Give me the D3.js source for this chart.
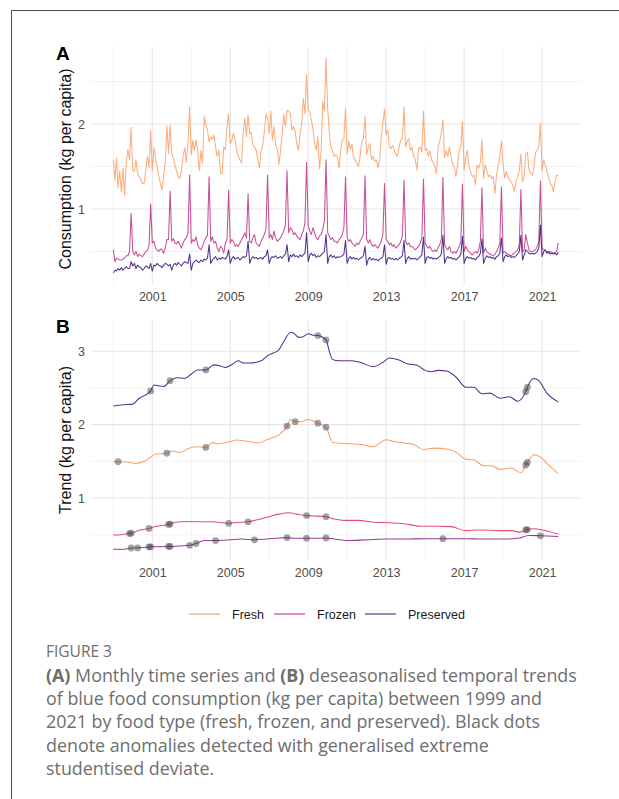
<!DOCTYPE html>
<html><head><meta charset="utf-8">
<script src="https://cdn.jsdelivr.net/npm/d3@7"></script>
<style>
html,body{margin:0;padding:0;background:#fff;}
svg{display:block;}
</style></head><body>
<svg id="fig" width="619" height="799"></svg>
<script>
// Blue food consumption, kg per capita, monthly from January 1999
const seriesNames = ["Fresh", "Frozen", "Preserved"];
const firstYear = 1999;

const freshMonthly = [
  [1.58,1.34,1.60,1.25,1.45,1.20,1.48,1.16,1.55,1.70,1.58,1.96],
  [1.45,1.44,1.58,1.42,1.38,1.35,1.30,1.30,1.45,1.62,1.49,1.92],
  [1.45,1.73,1.60,1.50,1.40,1.30,1.22,1.38,1.55,1.98,1.65,1.99],
  [1.65,1.60,1.52,1.45,1.38,1.36,1.45,1.62,1.72,1.55,1.78,2.20],
  [1.64,1.81,1.69,1.81,1.69,1.45,1.69,1.54,2.09,1.99,1.93,1.79],
  [1.85,1.82,1.87,1.73,1.62,1.69,1.42,1.41,1.73,1.70,1.97,2.12],
  [1.77,1.81,1.89,1.81,1.69,1.62,1.58,1.54,1.89,2.07,1.85,2.11],
  [1.88,1.90,1.75,1.73,1.69,1.58,1.48,1.69,1.75,1.90,2.12,2.07],
  [1.89,2.15,1.81,1.97,1.75,1.71,1.52,1.69,1.89,2.11,1.97,2.16],
  [2.15,2.12,1.93,1.97,1.91,1.77,1.69,1.89,2.00,2.30,2.12,2.58],
  [2.16,2.15,2.05,1.93,1.77,1.69,1.85,1.47,1.69,2.27,2.15,2.78],
  [2.18,1.89,1.73,1.69,1.62,1.64,1.62,1.48,1.69,1.81,1.83,2.19],
  [1.65,1.80,1.70,1.76,1.60,1.58,1.54,1.50,1.62,1.79,1.83,2.09],
  [1.64,1.73,1.77,1.58,1.62,1.56,1.58,1.48,1.58,1.85,2.01,2.18],
  [1.87,1.93,1.73,1.71,1.75,1.69,1.64,1.62,1.73,1.81,1.83,2.20],
  [1.73,1.80,1.83,1.69,1.73,1.62,1.58,1.46,1.71,1.73,1.67,2.15],
  [1.69,1.71,1.62,1.69,1.58,1.54,1.50,1.42,1.73,1.79,1.90,2.05],
  [1.60,1.69,1.62,1.73,1.62,1.52,1.50,1.38,1.52,1.69,1.73,2.03],
  [1.46,1.60,1.69,1.50,1.44,1.38,1.40,1.28,1.52,1.48,1.55,1.82],
  [1.36,1.52,1.45,1.38,1.40,1.36,1.38,1.18,1.40,1.52,1.62,1.80],
  [1.52,1.36,1.44,1.38,1.34,1.32,1.28,1.20,1.32,1.38,1.45,1.65],
  [1.32,1.38,1.65,1.67,1.46,1.42,1.40,1.48,1.67,1.69,1.75,2.01],
  [1.45,1.58,1.52,1.45,1.38,1.30,1.28,1.20,1.32,1.40,1.39]
];

const frozenMonthly = [
  [0.52,0.38,0.42,0.41,0.40,0.40,0.41,0.42,0.45,0.45,0.50,0.95],
  [0.50,0.46,0.50,0.44,0.47,0.45,0.44,0.47,0.50,0.51,0.57,1.06],
  [0.60,0.62,0.54,0.52,0.50,0.53,0.52,0.48,0.54,0.64,0.64,1.21],
  [0.62,0.65,0.60,0.59,0.62,0.58,0.54,0.60,0.64,0.66,0.72,1.40],
  [0.60,0.64,0.62,0.67,0.58,0.54,0.52,0.56,0.62,0.66,0.69,1.38],
  [0.62,0.67,0.60,0.62,0.54,0.50,0.56,0.54,0.48,0.60,0.64,1.22],
  [0.60,0.64,0.62,0.56,0.58,0.56,0.60,0.64,0.68,0.72,0.66,1.18],
  [0.62,0.60,0.66,0.70,0.60,0.58,0.56,0.62,0.66,0.70,0.76,1.40],
  [0.66,0.70,0.64,0.74,0.66,0.62,0.64,0.66,0.70,0.74,0.82,1.45],
  [0.72,0.78,0.76,0.70,0.72,0.68,0.66,0.64,0.70,0.74,0.84,1.55],
  [0.80,0.74,0.70,0.78,0.72,0.66,0.64,0.68,0.70,0.76,0.86,1.58],
  [0.72,0.68,0.64,0.66,0.62,0.62,0.60,0.64,0.66,0.70,0.78,1.38],
  [0.66,0.62,0.64,0.60,0.58,0.56,0.60,0.58,0.62,0.66,0.70,1.39],
  [0.64,0.60,0.64,0.58,0.56,0.58,0.56,0.54,0.58,0.62,0.70,1.30],
  [0.64,0.62,0.58,0.60,0.56,0.58,0.54,0.56,0.58,0.62,0.68,1.34],
  [0.62,0.58,0.60,0.56,0.56,0.54,0.52,0.54,0.56,0.60,0.66,1.35],
  [0.60,0.56,0.54,0.56,0.52,0.50,0.52,0.50,0.54,0.58,0.64,1.37],
  [0.58,0.54,0.52,0.56,0.50,0.48,0.50,0.48,0.52,0.56,0.62,1.29],
  [0.50,0.56,0.52,0.50,0.48,0.46,0.48,0.50,0.48,0.52,0.62,1.25],
  [0.48,0.54,0.50,0.48,0.47,0.46,0.45,0.47,0.50,0.54,0.60,1.26],
  [0.48,0.50,0.48,0.47,0.46,0.45,0.47,0.48,0.50,0.52,0.58,1.23],
  [0.50,0.52,0.70,0.60,0.52,0.50,0.50,0.51,0.52,0.56,0.62,1.33],
  [0.54,0.52,0.51,0.50,0.48,0.50,0.49,0.48,0.49,0.50,0.60]
];

const preservedMonthly = [
  [0.25,0.28,0.27,0.30,0.28,0.31,0.28,0.30,0.32,0.30,0.30,0.38],
  [0.33,0.36,0.30,0.34,0.32,0.31,0.28,0.30,0.33,0.32,0.30,0.36],
  [0.27,0.34,0.33,0.36,0.34,0.33,0.31,0.34,0.36,0.35,0.33,0.35],
  [0.28,0.34,0.36,0.34,0.37,0.35,0.33,0.36,0.38,0.37,0.36,0.47],
  [0.28,0.36,0.38,0.40,0.38,0.37,0.40,0.38,0.41,0.40,0.42,0.58],
  [0.36,0.40,0.42,0.44,0.40,0.42,0.41,0.43,0.42,0.41,0.44,0.52],
  [0.36,0.42,0.44,0.41,0.42,0.43,0.40,0.42,0.44,0.43,0.45,0.62],
  [0.36,0.42,0.44,0.42,0.43,0.41,0.42,0.43,0.41,0.44,0.45,0.52],
  [0.36,0.42,0.44,0.43,0.45,0.42,0.43,0.44,0.42,0.45,0.47,0.58],
  [0.38,0.46,0.44,0.47,0.44,0.45,0.43,0.46,0.44,0.46,0.48,0.72],
  [0.38,0.46,0.48,0.45,0.47,0.43,0.45,0.44,0.46,0.48,0.50,0.70],
  [0.36,0.44,0.46,0.43,0.45,0.42,0.44,0.43,0.44,0.45,0.47,0.63],
  [0.36,0.42,0.44,0.41,0.43,0.41,0.42,0.40,0.42,0.43,0.45,0.56],
  [0.34,0.41,0.43,0.40,0.42,0.40,0.41,0.39,0.41,0.42,0.44,0.58],
  [0.35,0.42,0.43,0.41,0.42,0.40,0.42,0.40,0.42,0.43,0.45,0.63],
  [0.36,0.42,0.44,0.41,0.42,0.41,0.42,0.40,0.42,0.44,0.46,0.67],
  [0.36,0.43,0.44,0.42,0.43,0.41,0.42,0.41,0.43,0.44,0.47,0.69],
  [0.36,0.42,0.44,0.42,0.43,0.41,0.42,0.40,0.42,0.44,0.47,0.68],
  [0.36,0.42,0.44,0.42,0.43,0.41,0.42,0.40,0.43,0.44,0.48,0.65],
  [0.36,0.42,0.45,0.43,0.44,0.42,0.43,0.41,0.44,0.45,0.48,0.66],
  [0.38,0.44,0.46,0.44,0.45,0.43,0.44,0.43,0.45,0.47,0.50,0.69],
  [0.40,0.46,0.52,0.50,0.48,0.47,0.48,0.47,0.48,0.50,0.54,0.81],
  [0.44,0.50,0.52,0.48,0.50,0.47,0.48,0.47,0.48,0.46,0.49]
];

// Deseasonalised trends, [month, kg per capita]
const totalTrend = [
  ["1999-01",2.255],["1999-07",2.27],["2000-01",2.28],["2000-05",2.36],["2000-09",2.405],
  ["2000-12",2.46],["2001-02",2.54],["2001-05",2.53],["2001-08",2.52],["2001-12",2.60],
  ["2002-04",2.64],["2002-09",2.63],["2003-01",2.69],["2003-05",2.746],["2003-10",2.746],
  ["2004-03",2.815],["2004-07",2.80],["2004-10",2.78],["2005-02",2.82],["2005-06",2.87],
  ["2005-09",2.84],["2006-01",2.84],["2006-08",2.87],["2006-12",2.94],["2007-04",2.98],
  ["2007-07",3.02],["2007-10",3.13],["2008-02",3.255],["2008-04",3.25],["2008-07",3.19],
  ["2008-10",3.20],["2009-01",3.24],["2009-04",3.22],["2009-07",3.215],["2009-12",3.155],
  ["2010-02",3.00],["2010-04",2.89],["2010-08",2.87],["2011-02",2.87],["2011-09",2.85],
  ["2012-05",2.79],["2012-11",2.85],["2013-03",2.91],["2013-09",2.88],["2014-02",2.83],
  ["2014-08",2.81],["2015-01",2.74],["2015-05",2.72],["2015-09",2.74],["2016-02",2.73],
  ["2016-08",2.65],["2017-02",2.51],["2017-07",2.51],["2017-12",2.42],["2018-05",2.43],
  ["2018-11",2.36],["2019-05",2.38],["2019-10",2.32],["2020-03",2.45],["2020-04",2.51],
  ["2020-08",2.63],["2020-11",2.60],["2021-04",2.43],["2021-11",2.31]
];
const freshTrend = [
  ["1999-01",1.495],["1999-04",1.495],["1999-08",1.495],["2000-03",1.47],["2000-08",1.50],
  ["2001-03",1.595],["2001-10",1.61],["2002-01",1.64],["2002-06",1.62],["2002-12",1.68],
  ["2003-04",1.70],["2003-10",1.69],["2004-02",1.755],["2004-06",1.74],["2005-01",1.77],
  ["2005-05",1.79],["2005-09",1.78],["2006-03",1.76],["2006-07",1.75],["2006-11",1.79],
  ["2007-03",1.82],["2007-07",1.86],["2007-12",1.98],["2008-02",2.07],["2008-05",2.04],
  ["2008-09",2.04],["2009-01",2.07],["2009-04",2.05],["2009-07",2.02],["2009-12",1.965],
  ["2010-04",1.757],["2011-02",1.74],["2011-10",1.73],["2012-05",1.70],["2013-01",1.795],
  ["2013-06",1.77],["2013-12",1.75],["2014-06",1.73],["2014-12",1.66],["2015-07",1.68],
  ["2016-03",1.665],["2016-08",1.625],["2017-02",1.53],["2017-07",1.52],["2018-01",1.44],
  ["2018-06",1.44],["2018-11",1.39],["2019-06",1.41],["2019-12",1.345],["2020-03",1.45],
  ["2020-04",1.485],["2020-08",1.59],["2020-12",1.56],["2021-05",1.45],["2021-11",1.33]
];
const frozenTrend = [
  ["1999-01",0.495],["1999-06",0.50],["1999-11",0.515],["1999-12",0.52],["2000-05",0.56],
  ["2000-11",0.585],["2001-03",0.61],["2001-11",0.64],["2001-12",0.645],["2002-03",0.67],
  ["2002-12",0.68],["2003-07",0.675],["2004-02",0.675],["2004-12",0.655],["2005-04",0.665],
  ["2005-12",0.675],["2006-05",0.70],["2007-01",0.745],["2007-07",0.78],["2008-01",0.80],
  ["2008-06",0.78],["2008-12",0.76],["2009-05",0.755],["2009-12",0.745],["2010-05",0.715],
  ["2010-11",0.695],["2011-08",0.695],["2012-05",0.67],["2013-01",0.665],["2013-12",0.65],
  ["2014-10",0.615],["2015-09",0.615],["2016-05",0.61],["2017-02",0.555],["2017-10",0.565],
  ["2018-11",0.555],["2019-06",0.555],["2019-11",0.535],["2020-03",0.565],["2020-04",0.57],
  ["2020-08",0.58],["2021-01",0.565],["2021-11",0.51]
];
const preservedTrend = [
  ["1999-01",0.30],["1999-07",0.30],["1999-12",0.318],["2000-04",0.32],["2000-11",0.333],
  ["2000-12",0.335],["2001-11",0.34],["2001-12",0.34],["2002-05",0.345],["2002-12",0.355],
  ["2003-04",0.38],["2003-09",0.42],["2004-04",0.42],["2005-01",0.43],["2005-08",0.44],
  ["2006-04",0.43],["2006-11",0.44],["2007-05",0.45],["2007-12",0.46],["2008-05",0.45],
  ["2008-12",0.45],["2009-05",0.45],["2009-12",0.455],["2010-05",0.44],["2011-01",0.42],
  ["2012-01",0.43],["2013-01",0.44],["2014-01",0.44],["2015-01",0.445],["2015-12",0.445],
  ["2017-01",0.445],["2018-01",0.44],["2019-01",0.44],["2019-10",0.45],["2020-05",0.49],
  ["2020-12",0.485],["2021-11",0.475]
];

// Months flagged as anomalies (generalised ESD)
const totalAnomalies = ["2000-12","2001-12","2003-10","2009-07","2009-12","2020-03","2020-04"];
const freshAnomalies = ["1999-04","2001-10","2003-10","2007-12","2008-05","2009-07","2009-12","2020-03","2020-04"];
const frozenAnomalies = ["1999-11","1999-12","2000-11","2001-11","2001-12","2004-12","2005-12","2008-12","2009-12","2020-03","2020-04"];
const preservedAnomalies = ["1999-12","2000-04","2000-11","2000-12","2001-11","2001-12","2002-12","2003-04","2004-04","2006-04","2007-12","2008-12","2009-12","2015-12","2020-12"];

const yearLabels = [2001, 2005, 2009, 2013, 2017, 2021];
const yearMinor = [1999, 2003, 2007, 2011, 2015, 2019];
const ticksA = [1, 2];
const minorA = [0.5, 1.5, 2.5];
const ticksB = [1, 2, 3];
const minorB = [0.5, 1.5, 2.5];

const captionLines = [
  [["(A)", true], [" Monthly time series and ", false], ["(B)", true], [" deseasonalised temporal trends", false]],
  [["of blue food consumption (kg per capita) between 1999 and", false]],
  [["2021 by food type (fresh, frozen, and preserved). Black dots", false]],
  [["denote anomalies detected with generalised extreme", false]],
  [["studentised deviate.", false]]
];

// ---------- drawing ----------
const svg = d3.select("#fig");
const FONT = "'Liberation Sans', Arial, Helvetica, sans-serif";
const parse = d3.timeParse("%Y-%m");

svg.append("rect").attr("width", 619).attr("height", 799).attr("fill", "#fff");
svg.append("path").attr("d", "M11.5,799V10.5H619").attr("fill", "none")
  .attr("stroke", "#4a4a4a").attr("stroke-width", 1);

const colA = {Fresh: "#fc9f68", Frozen: "#c23c88", Preserved: "#4a2787"};
const opA = {Fresh: 0.85, Frozen: 0.9, Preserved: 0.95};
const colLegend = {Fresh: "#fdc6a3", Frozen: "#de8cc0", Preserved: "#9d88c6"};
const colB = {Total: "#5b2c8e", Fresh: "#fb9f68", Frozen: "#e34f6f", Preserved: "#973a9b"};

const panelLeft = 91, panelRight = 581;
const x = d3.scaleTime()
  .domain([new Date(1999, 0, 1), new Date(2021, 10, 1)])
  .range([113.3, 558.3]);

const toMonthly = rows => rows.flatMap((vals, yi) =>
  vals.map((v, m) => ({date: new Date(firstYear + yi, m, 1), value: v})));
const toTrend = rows => rows.map(([d, v]) => ({key: d, date: parse(d), value: v}));

function grid(g, y, top, bottom, major, minor) {
  const gg = g.append("g");
  gg.selectAll(".hmin").data(minor).join("line")
    .attr("x1", panelLeft).attr("x2", panelRight)
    .attr("y1", d => y(d)).attr("y2", d => y(d))
    .attr("stroke", "#ededed").attr("stroke-width", 0.7);
  gg.selectAll(".vmin").data(yearMinor).join("line")
    .attr("x1", d => x(new Date(d, 0, 1))).attr("x2", d => x(new Date(d, 0, 1)))
    .attr("y1", top).attr("y2", bottom)
    .attr("stroke", "#ededed").attr("stroke-width", 0.7);
  gg.selectAll(".hmaj").data(major).join("line")
    .attr("x1", panelLeft).attr("x2", panelRight)
    .attr("y1", d => y(d)).attr("y2", d => y(d))
    .attr("stroke", "#e6e6e6").attr("stroke-width", 1.1);
  gg.selectAll(".vmaj").data(yearLabels).join("line")
    .attr("x1", d => x(new Date(d, 0, 1))).attr("x2", d => x(new Date(d, 0, 1)))
    .attr("y1", top).attr("y2", bottom)
    .attr("stroke", "#e6e6e6").attr("stroke-width", 1.1);
}

function axes(g, y, bottom, major, title, titleY, letter, letterY) {
  const ax = g.append("g").attr("transform", `translate(0,${bottom})`)
    .call(d3.axisBottom(x).tickValues(yearLabels.map(d => new Date(d, 0, 1)))
      .tickFormat(d3.timeFormat("%Y")).tickSize(0).tickPadding(8));
  const ay = g.append("g").attr("transform", `translate(${panelLeft},0)`)
    .call(d3.axisLeft(y).tickValues(major).tickFormat(d3.format("d")).tickSize(0).tickPadding(6));
  [ax, ay].forEach(a => {
    a.select(".domain").remove();
    a.selectAll("text").attr("font-family", FONT).attr("font-size", 12.5).attr("fill", "#4d4d4d");
  });
  g.append("text").attr("transform", `translate(71,${titleY}) rotate(-90)`)
    .attr("text-anchor", "middle").attr("font-family", FONT).attr("font-size", 16)
    .attr("fill", "#111").text(title);
  g.append("text").attr("x", 56).attr("y", letterY).attr("font-family", FONT)
    .attr("font-size", 19).attr("font-weight", "bold").attr("fill", "#000").text(letter);
}

// Panel A: monthly series
const yA = d3.scaleLinear().domain([0, 2]).range([294, 124]);
const gA = svg.append("g");
grid(gA, yA, 47, 285, ticksA, minorA);
axes(gA, yA, 284, ticksA, "Consumption (kg per capita)", 169, "A", 60);
const lineA = d3.line().x(d => x(d.date)).y(d => yA(d.value));
const monthly = {Fresh: freshMonthly, Frozen: frozenMonthly, Preserved: preservedMonthly};
seriesNames.forEach(name => {
  gA.append("path").datum(toMonthly(monthly[name])).attr("d", lineA)
    .attr("fill", "none").attr("stroke", colA[name]).attr("stroke-width", 1.05)
    .attr("stroke-opacity", opA[name]).attr("stroke-linejoin", "round");
});

// Panel B: trends with anomalies
const yB = d3.scaleLinear().domain([1, 3]).range([498, 351.3]);
const gB = svg.append("g");
grid(gB, yB, 320, 560, ticksB, minorB);
axes(gB, yB, 560, ticksB, "Trend (kg per capita)", 440, "B", 333);
const lineB = d3.line().x(d => x(d.date)).y(d => yB(d.value)).curve(d3.curveMonotoneX);
const trends = [
  ["Total", totalTrend, totalAnomalies],
  ["Fresh", freshTrend, freshAnomalies],
  ["Frozen", frozenTrend, frozenAnomalies],
  ["Preserved", preservedTrend, preservedAnomalies]
];
trends.forEach(([name, rows]) => {
  gB.append("path").datum(toTrend(rows)).attr("d", lineB)
    .attr("fill", "none").attr("stroke", colB[name]).attr("stroke-width", 1.05);
});
trends.forEach(([name, rows, flagged]) => {
  const pts = toTrend(rows).filter(d => flagged.includes(d.key));
  gB.append("g").selectAll("circle").data(pts).join("circle")
    .attr("cx", d => x(d.date)).attr("cy", d => yB(d.value)).attr("r", 3.4)
    .attr("fill", "#454545").attr("fill-opacity", 0.5);
});

// Legend
const legendX = {Fresh: 189, Frozen: 274, Preserved: 365};
const lg = svg.append("g");
seriesNames.forEach(name => {
  lg.append("line").attr("x1", legendX[name]).attr("x2", legendX[name] + 31)
    .attr("y1", 614).attr("y2", 614).attr("stroke", colLegend[name]).attr("stroke-width", 2);
  lg.append("text").attr("x", legendX[name] + 43).attr("y", 618.5)
    .attr("font-family", FONT).attr("font-size", 12.5).attr("fill", "#1a1a1a").text(name);
});

// Caption, sized so the first line spans the text column
const CAP = "'Open Sans', Lato, sans-serif";
const capLeft = 46, capWidth = 531;
const fig = svg.append("text").attr("x", capLeft).attr("y", 657).attr("font-family", CAP)
  .attr("font-size", 13).attr("fill", "#6e6e6e").text("FIGURE 3");
const figW = fig.node().getComputedTextLength();
fig.attr("font-size", 13 * 66 / figW);

const capRows = captionLines.map((parts, i) => {
  const t = svg.append("text").attr("x", capLeft).attr("y", 682 + i * 23.2)
    .attr("font-family", CAP).attr("font-size", 17).attr("fill", "#6e6e6e");
  parts.forEach(([s, bold]) => {
    t.append("tspan").attr("font-weight", bold ? "bold" : "normal").text(s);
  });
  return t;
});
const firstW = capRows[0].node().getComputedTextLength();
const capSize = 17 * capWidth / firstW;
capRows.forEach(t => t.attr("font-size", capSize));
</script>
</body></html>
